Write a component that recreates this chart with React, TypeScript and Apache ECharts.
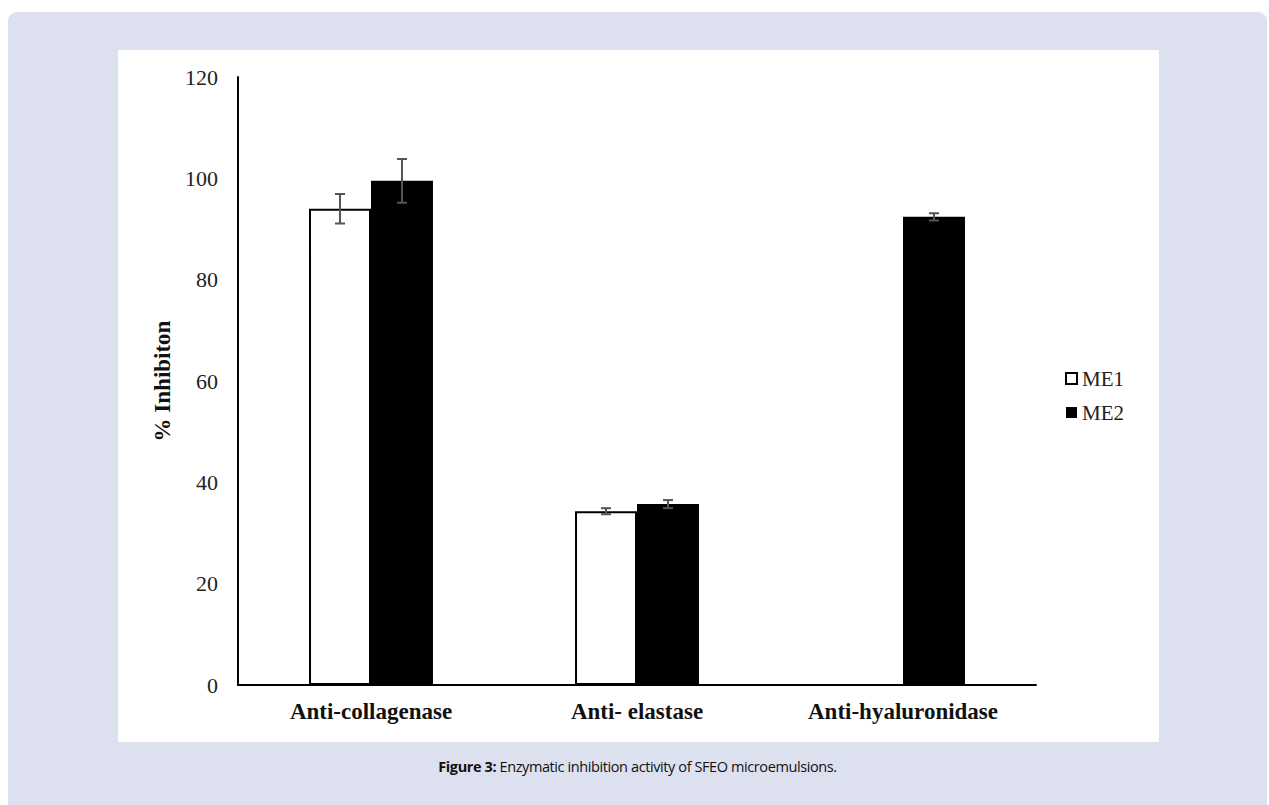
import React, { useEffect, useRef } from "react";
import * as echarts from "echarts";

const categories = ["Anti-collagenase", "Anti- elastase", "Anti-hyaluronidase"];
const me1Values = [94.0, 34.3, 0];
const me2Values = [99.5, 35.7, 92.4];
const me1Errors = [2.9, 0.6, 0];
const me2Errors = [4.3, 0.8, 0.7];
const seriesNames = ["ME1", "ME2"];

const BAR_FRAC = 0.233;
const SERIF = "'Liberation Serif', 'Times New Roman', serif";

export default function App() {
  const ref = useRef<HTMLDivElement>(null);

  useEffect(() => {
    if (!ref.current) return;
    const chart = echarts.init(ref.current, undefined, { renderer: "svg" });

    const errData: number[][] = [];
    categories.forEach((_, i) => {
      errData.push([i, me1Values[i], me1Errors[i], -1]);
      errData.push([i, me2Values[i], me2Errors[i], 1]);
    });

    chart.setOption({
      animation: false,
      backgroundColor: "#ffffff",
      grid: { left: 120, right: 123, top: 27, bottom: 57 },
      legend: {
        orient: "vertical",
        left: 942,
        top: 313,
        data: seriesNames,
        icon: "rect",
        itemWidth: 11,
        itemHeight: 11,
        itemGap: 13,
        textStyle: { fontFamily: SERIF, fontSize: 21, color: "#222" },
      },
      xAxis: {
        type: "category",
        data: categories,
        axisLine: { lineStyle: { color: "#000", width: 2 } },
        axisTick: { show: false },
        axisLabel: {
          fontFamily: SERIF,
          fontSize: 23,
          fontWeight: "bold",
          color: "#111",
          margin: 15,
        },
      },
      yAxis: {
        type: "value",
        min: 0,
        max: 120,
        interval: 20,
        name: "% Inhibiton",
        nameLocation: "middle",
        nameGap: 64,
        nameTextStyle: {
          fontFamily: SERIF,
          fontSize: 23,
          fontWeight: "bold",
          color: "#111",
        },
        axisLine: { show: true, lineStyle: { color: "#000", width: 2 } },
        axisTick: { show: false },
        splitLine: { show: false },
        axisLabel: {
          fontFamily: SERIF,
          fontSize: 22,
          color: "#222",
          margin: 20,
        },
      },
      series: [
        {
          name: "ME1",
          type: "bar",
          data: me1Values,
          barWidth: BAR_FRAC * 100 + "%",
          barGap: "0%",
          itemStyle: { color: "#ffffff", borderColor: "#000", borderWidth: 2 },
        },
        {
          name: "ME2",
          type: "bar",
          data: me2Values,
          barWidth: BAR_FRAC * 100 + "%",
          barGap: "0%",
          itemStyle: { color: "#000000" },
        },
        {
          name: "errors",
          type: "custom",
          data: errData,
          encode: { x: 0, y: 1 },
          z: 10,
          silent: true,
          renderItem: (params: any, api: any) => {
            const idx = api.value(0);
            const val = api.value(1);
            const err = api.value(2);
            const side = api.value(3);
            if (!err) return null;
            const center = api.coord([idx, val]);
            const band = api.size([1, 0])[0];
            const bw = band * BAR_FRAC;
            const x = center[0] + (side * bw) / 2;
            const top = api.coord([idx, val + err])[1];
            const bot = api.coord([idx, val - err])[1];
            const cap = 5;
            const style = { stroke: "#555", lineWidth: 2 };
            return {
              type: "group",
              children: [
                { type: "line", shape: { x1: x, y1: top, x2: x, y2: bot }, style },
                { type: "line", shape: { x1: x - cap, y1: top, x2: x + cap, y2: top }, style },
                { type: "line", shape: { x1: x - cap, y1: bot, x2: x + cap, y2: bot }, style },
              ],
            };
          },
        },
      ],
    });

    return () => chart.dispose();
  }, []);

  return (
    <div
      style={{
        position: "absolute",
        left: 8,
        top: 12,
        width: 1259,
        height: 793,
        background: "#dde0ee",
        borderRadius: "9px 9px 0 0",
        overflow: "hidden",
      }}
    >
      <div
        ref={ref}
        style={{ position: "absolute", left: 110, top: 38, width: 1041, height: 692 }}
      />
      <div
        style={{
          position: "absolute",
          left: 0,
          width: 1259,
          top: 745,
          textAlign: "center",
          fontFamily: "'Open Sans', sans-serif",
          fontSize: 14.5,
          color: "#111",
          letterSpacing: "-0.4px",
        }}
      >
        <b>Figure 3:</b> Enzymatic inhibition activity of SFEO microemulsions.
      </div>
    </div>
  );
}
